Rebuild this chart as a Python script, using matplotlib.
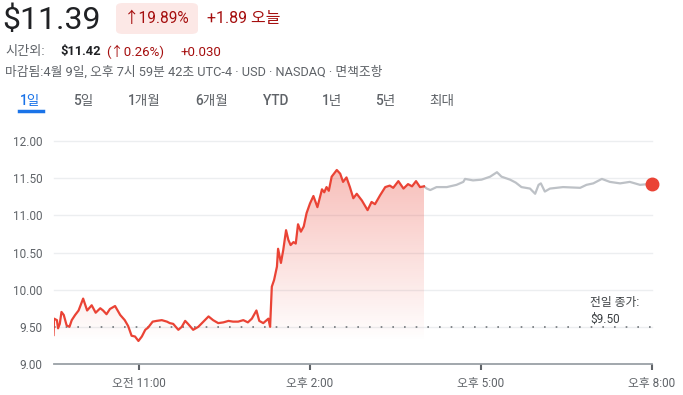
import matplotlib
matplotlib.use("Agg")
import matplotlib.pyplot as plt
from matplotlib.patches import FancyBboxPatch
import numpy as np

plt.rcParams['font.family'] = ['Roboto', 'Noto Sans CJK KR', 'DejaVu Sans']

# regular session (hours, price)
t_reg = [9.50, 9.51, 9.56, 9.58, 9.61, 9.64, 9.68, 9.73, 9.78, 9.82,
         9.88, 9.94, 10.02, 10.09, 10.17, 10.24, 10.32, 10.37, 10.43, 10.49,
         10.58, 10.67, 10.75, 10.81, 10.87, 10.93, 10.99, 11.05, 11.11, 11.16,
         11.24, 11.31, 11.40, 11.49, 11.54, 11.60, 11.69, 11.75, 11.81, 11.86,
         11.95, 12.04, 12.13, 12.22, 12.30, 12.39, 12.48, 12.57, 12.65, 12.74,
         12.83, 12.91, 12.98, 13.06, 13.11, 13.18, 13.27, 13.30, 13.33, 13.37,
         13.42, 13.44, 13.49, 13.53, 13.58, 13.62, 13.66, 13.71, 13.75, 13.79,
         13.84, 13.89, 13.94, 14.00, 14.06, 14.13, 14.21, 14.25, 14.29, 14.33,
         14.38, 14.47, 14.53, 14.58, 14.64, 14.70, 14.76, 14.82, 14.91, 15.01,
         15.08, 15.14, 15.23, 15.32, 15.40, 15.46, 15.55, 15.64, 15.72, 15.79,
         15.86, 15.93, 16.00]
p_reg = [9.39, 9.61, 9.59, 9.48, 9.54, 9.70, 9.66, 9.52, 9.50, 9.59,
         9.66, 9.72, 9.88, 9.72, 9.79, 9.69, 9.75, 9.72, 9.67, 9.74,
         9.78, 9.66, 9.59, 9.51, 9.38, 9.37, 9.31, 9.37, 9.46, 9.49,
         9.57, 9.58, 9.59, 9.57, 9.55, 9.54, 9.46, 9.50, 9.58, 9.54,
         9.46, 9.50, 9.57, 9.64, 9.59, 9.55, 9.56, 9.58, 9.57, 9.57,
         9.59, 9.56, 9.61, 9.72, 9.58, 9.55, 9.61, 9.50, 10.04, 10.13,
         10.31, 10.55, 10.36, 10.53, 10.80, 10.67, 10.60, 10.64, 10.62, 10.88,
         10.78, 10.85, 11.03, 11.16, 11.26, 11.11, 11.35, 11.31, 11.38, 11.33,
         11.52, 11.61, 11.56, 11.45, 11.51, 11.38, 11.23, 11.29, 11.20, 11.07,
         11.18, 11.15, 11.27, 11.38, 11.40, 11.37, 11.46, 11.36, 11.42, 11.39,
         11.46, 11.38, 11.39]

# after hours
t_ah = [16.00, 16.05, 16.11, 16.22, 16.40, 16.57, 16.69, 16.72, 16.86, 17.01,
        17.16, 17.28, 17.36, 17.51, 17.61, 17.71, 17.86, 17.95, 18.01, 18.05,
        18.12, 18.21, 18.44, 18.74, 18.85, 18.97, 19.12, 19.26, 19.44, 19.61,
        19.79, 19.93, 20.00]
p_ah = [11.39, 11.36, 11.34, 11.38, 11.38, 11.41, 11.45, 11.49, 11.47, 11.48,
        11.52, 11.58, 11.52, 11.48, 11.44, 11.38, 11.36, 11.29, 11.41, 11.43,
        11.32, 11.36, 11.38, 11.37, 11.41, 11.43, 11.49, 11.45, 11.43, 11.45,
        11.41, 11.42, 11.42]

prev_close = 9.50
y_ticks = [9.0, 9.5, 10.0, 10.5, 11.0, 11.5, 12.0]
x_ticks = [11, 14, 17, 20]
x_labels = ["오전 11:00", "오후 2:00", "오후 5:00", "오후 8:00"]
tabs = ["1일", "5일", "1개월", "6개월", "YTD", "1년", "5년", "최대"]

RED = "#ea4335"
DARKRED = "#a50e0e"
GRAY = "#5f6368"
W, H = 683, 395

fig = plt.figure(figsize=(W / 100, H / 100), dpi=100)


def fx(x):
    return x / W


def fy(y):
    return 1 - y / H


ax = fig.add_axes([fx(53.5), fy(364), (652 - 53.5) / W, (364 - 141) / H])
ax.set_xlim(9.5, 20)
ax.set_ylim(9.0, 12.0)

for y in y_ticks[1:]:
    ax.axhline(y, color="#eceef0", lw=1, zorder=0, clip_on=False)

# gradient fill under regular session
poly = ax.fill_between(t_reg, p_reg, 9.0, color="none", lw=0)
grad = np.linspace(0, 1, 256).reshape(-1, 1)
alpha = np.clip((grad * 3.0 - 0.3) / 2.7, 0, 1) * 0.4
rgba = np.zeros((256, 1, 4))
rgba[..., 0], rgba[..., 1], rgba[..., 2] = 0.918, 0.263, 0.208
rgba[..., 3] = alpha
img = ax.imshow(rgba, extent=[9.5, 16.0, 9.0, 12.0], origin="lower",
                aspect="auto", zorder=1)
img.set_clip_path(poly.get_paths()[0], transform=ax.transData)

ax.plot([9.5, 20], [prev_close, prev_close], color="#70757a", lw=1.2,
        ls=(0, (1, 6)), zorder=2)
ax.plot(t_ah, p_ah, color="#bdc1c6", lw=1.6, zorder=3)
ax.plot(t_reg, p_reg, color=RED, lw=1.6, zorder=4)
ax.plot(t_ah[-1], p_ah[-1], "o", color=RED, ms=9, zorder=5, clip_on=False)

ax.text(18.92, 9.83, "전일 종가:", fontsize=8.5, color="#3c4043", va="center")
ax.text(18.92, 9.60, "$9.50", fontsize=8.5, color="#3c4043", va="center")

for s in ["top", "right", "left"]:
    ax.spines[s].set_visible(False)
ax.spines["bottom"].set_color("#9aa0a6")
ax.spines["bottom"].set_linewidth(1.3)
ax.set_yticks(y_ticks)
ax.set_yticklabels([f"{v:.2f}" for v in y_ticks])
ax.set_xticks(x_ticks)
ax.set_xticklabels(x_labels)
ax.tick_params(axis="y", length=0, pad=8, labelsize=8.5, labelcolor=GRAY)
ax.tick_params(axis="x", length=4, width=1.5, color="#5f6368", pad=5,
               labelsize=8.5, labelcolor=GRAY)
ax.patch.set_visible(False)

# header
fig.text(fx(2), fy(20), "$11.39", fontsize=23, color="#202124", va="center")
fig.patches.append(FancyBboxPatch((fx(116), fy(34)), fx(82), 31 / H,
                                  boxstyle="round,pad=0,rounding_size=0.01",
                                  transform=fig.transFigure, fc="#fce8e6",
                                  ec="none"))
fig.text(fx(124), fy(19), "↑19.89%", fontsize=11.2, color=DARKRED, va="center")
fig.text(fx(207), fy(19), "+1.89 오늘", fontsize=11.5, color=DARKRED, va="center")

fig.text(fx(5), fy(52), "시간외:", fontsize=9.5, color=GRAY, va="center")
fig.text(fx(60), fy(52), "$11.42", fontsize=9.3, color="#202124",
         weight="bold", va="center")
fig.text(fx(106), fy(52), "(↑0.26%)", fontsize=9.5, color=DARKRED, va="center")
fig.text(fx(181), fy(52), "+0.030", fontsize=9.5, color=DARKRED, va="center")
fig.text(fx(5), fy(72), "마감됨:4월 9일, 오후 7시 59분 42초 UTC-4 · USD · NASDAQ · 면책조항",
         fontsize=9.2, color=GRAY, va="center")

tab_x = [20, 73, 128, 195, 263, 322, 375, 429]
for i, (lab, x) in enumerate(zip(tabs, tab_x)):
    fig.text(fx(x), fy(101), lab, fontsize=9.8, va="center",
             color="#1a73e8" if i == 0 else GRAY, weight="medium")
fig.add_artist(plt.Line2D([fx(19), fx(43)], [fy(111), fy(111)],
                          color="#1a73e8", lw=2.5, transform=fig.transFigure))

fig.savefig("out.png", dpi=100)
